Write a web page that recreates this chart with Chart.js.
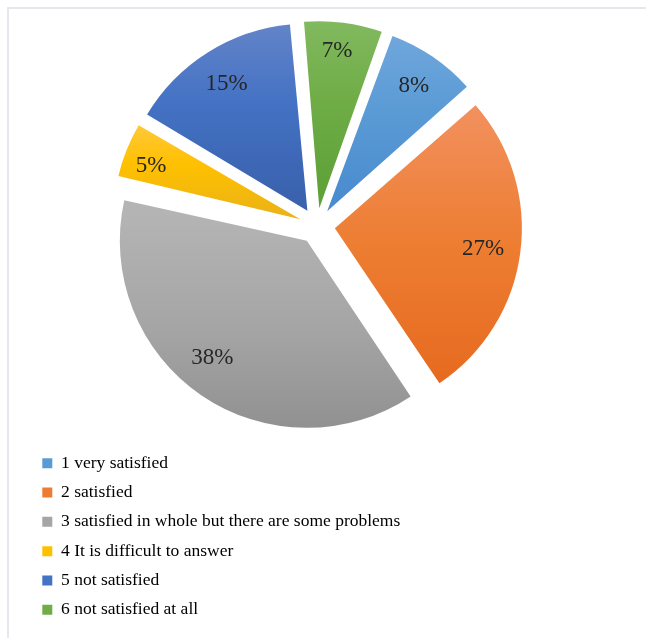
<!DOCTYPE html>
<html>
<head>
<meta charset="utf-8">
<script src="https://cdn.jsdelivr.net/npm/chart.js@4.4.1/dist/chart.umd.min.js"></script>
<style>
  html, body { margin: 0; padding: 0; background: #fff; }
  #wrap { position: relative; width: 646px; height: 638px; overflow: hidden; }
  #frame { position: absolute; left: 7px; top: 7px; right: 0; bottom: 0;
           border-top: 2px solid #e4e7eb; border-left: 2px solid #e4e7eb; }
  canvas { position: absolute; left: 0; top: 0; }
</style>
</head>
<body>
<div id="wrap"><div id="frame"></div><canvas id="myPie" width="646" height="638"></canvas></div>
<script>
const labels = [
  '1 very satisfied',
  '2 satisfied',
  '3 satisfied in whole but there are some problems',
  '4 It is difficult to answer',
  '5 not satisfied',
  '6 not satisfied at all'
];
const shares = [8, 27, 38, 5, 15, 7];

// colours: legend swatch, lighter top / darker bottom of each slice gradient
const swatch = ['#5b9bd5', '#ed7d31', '#a5a5a5', '#ffc000', '#4472c4', '#70ad47'];
const lightTop = ['#74a9de', '#f2905e', '#b4b4b4', '#ffca45', '#6987c9', '#86bc65'];
const darkBottom = ['#4a8ccf', '#e66a20', '#8e8e8e', '#ecb415', '#3a62ae', '#5ea238'];

const pull = 18;      // how far every slice is pulled out
const radius = 187;
const startDeg = 20;
const labelDepth = [0.82, 0.80, 0.80, 0.85, 0.81, 0.85];
const labelTurn = [0, 0, 4.8, -1.7, 0, -1];   // degrees
const serif = '"Liberation Serif", "Times New Roman", serif';

function sliceAngles(i) {
  const total = shares.reduce((a, b) => a + b, 0);
  let a0 = (startDeg - 90) * Math.PI / 180;
  for (let k = 0; k < i; k++) a0 += shares[k] / total * 2 * Math.PI;
  return [a0, a0 + shares[i] / total * 2 * Math.PI];
}

// vertical gradient spanning each slice's own height
function fillFor(c) {
  const i = c.dataIndex;
  const area = c.chart.chartArea;
  if (!area) return swatch[i];
  const cy = (area.top + area.bottom) / 2;
  const [a0, a1] = sliceAngles(i);
  const mid = (a0 + a1) / 2;
  const oy = cy + Math.sin(mid) * pull;
  const ys = [oy, oy + Math.sin(a0) * radius, oy + Math.sin(a1) * radius];
  for (let n = -2; n <= 2; n++) {
    [Math.PI / 2, -Math.PI / 2].forEach(a => {
      const t = a + n * 2 * Math.PI;
      if (t > a0 && t < a1) ys.push(oy + Math.sin(t) * radius);
    });
  }
  const g = c.chart.ctx.createLinearGradient(0, Math.min(...ys), 0, Math.max(...ys));
  g.addColorStop(0, lightTop[i]);
  g.addColorStop(0.5, swatch[i]);
  g.addColorStop(1, darkBottom[i]);
  return g;
}

// keep the same outer radius on every pulled-out slice
const evenRadius = {
  id: 'evenRadius',
  beforeDatasetsDraw(chart) {
    chart.getDatasetMeta(0).data.forEach(arc => {
      const fix = 1 - Math.sin(Math.min(Math.PI, arc.circumference));
      arc.outerRadius = radius - (arc.options.offset || 0) / 4 * fix;
    });
  }
};

const sliceLabels = {
  id: 'sliceLabels',
  afterDatasetsDraw(chart) {
    const ctx = chart.ctx;
    ctx.save();
    ctx.font = '23px ' + serif;
    ctx.fillStyle = '#262626';
    ctx.textAlign = 'center';
    ctx.textBaseline = 'middle';
    chart.getDatasetMeta(0).data.forEach((arc, i) => {
      const mid = (arc.startAngle + arc.endAngle) / 2;
      const ox = arc.x + Math.cos(mid) * (arc.options.offset || 0) / 4;
      const oy = arc.y + Math.sin(mid) * (arc.options.offset || 0) / 4;
      const a = mid + labelTurn[i] * Math.PI / 180;
      const r = radius * labelDepth[i];
      ctx.fillText(shares[i] + '%', ox + Math.cos(a) * r, oy + Math.sin(a) * r + 1);
    });
    ctx.restore();
  }
};

const cvs = document.getElementById('myPie');
new Chart(cvs, {
  type: 'pie',
  data: {
    labels: labels,
    datasets: [{
      data: shares,
      backgroundColor: fillFor,
      borderWidth: 0,
      offset: pull * 4
    }]
  },
  options: {
    responsive: false,
    animation: false,
    events: [],
    rotation: startDeg,
    radius: radius,
    layout: { padding: { left: 30.5, right: 42.5, top: 9.3, bottom: 9.5 } },
    plugins: {
      tooltip: { enabled: false },
      legend: {
        position: 'bottom',
        align: 'start',
        labels: {
          boxWidth: 10,
          boxHeight: 10,
          padding: 11.8,
          color: '#262626',
          font: { family: serif, size: 17.5 },
          // one entry per line, like the original
          generateLabels: () => labels.map((text, i) => ({
            text: text + '\u00a0'.repeat(72),
            fillStyle: swatch[i],
            strokeStyle: swatch[i],
            lineWidth: 0,
            hidden: false,
            index: i
          }))
        }
      }
    }
  },
  plugins: [evenRadius, sliceLabels]
});
</script>
</body>
</html>
